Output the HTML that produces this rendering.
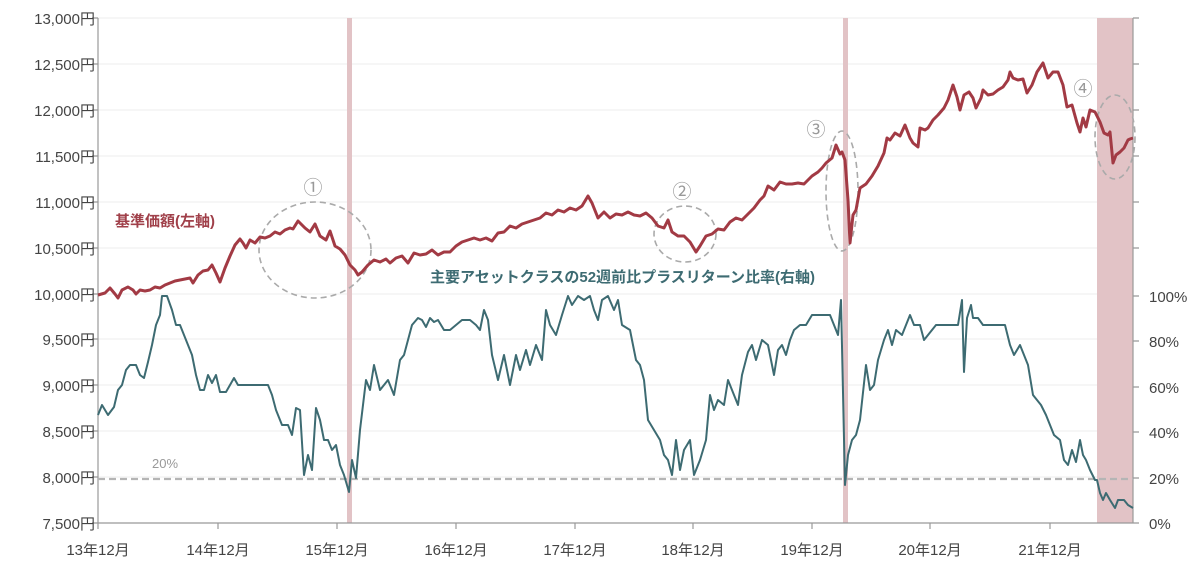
<!DOCTYPE html>
<html><head><meta charset="utf-8"><style>
body{margin:0;background:#fff;}
svg text{font-family:"Liberation Sans","Noto Sans CJK JP",sans-serif;}
</style></head><body>
<svg width="1200" height="572" viewBox="0 0 1200 572" xmlns="http://www.w3.org/2000/svg">
<rect width="1200" height="572" fill="#fff"/>
<!-- grid -->
<g stroke="#ececec" stroke-width="1">
<line x1="98" x2="1133" y1="18" y2="18"/><line x1="98" x2="1133" y1="64" y2="64"/><line x1="98" x2="1133" y1="110" y2="110"/><line x1="98" x2="1133" y1="156" y2="156"/><line x1="98" x2="1133" y1="202" y2="202"/><line x1="98" x2="1133" y1="248" y2="248"/><line x1="98" x2="1133" y1="294" y2="294"/><line x1="98" x2="1133" y1="339" y2="339"/><line x1="98" x2="1133" y1="385" y2="385"/><line x1="98" x2="1133" y1="431" y2="431"/><line x1="98" x2="1133" y1="477" y2="477"/>
</g>
<!-- shaded -->
<rect x="347" y="18" width="5" height="505" fill="#e2c3c6"/>
<rect x="843" y="18" width="5" height="505" fill="#e2c3c6"/>
<rect x="1097" y="18" width="36" height="505" fill="#e2c3c6"/>
<!-- axes -->
<g stroke="#999" stroke-width="1.2" fill="none">
<line x1="98" y1="18" x2="98" y2="523"/><line x1="1133" y1="18" x2="1133" y2="523"/><line x1="98" y1="523" x2="1133" y2="523"/>
<path d="M92 18H98M92 64H98M92 110H98M92 156H98M92 202H98M92 248H98M92 294H98M92 339H98M92 385H98M92 431H98M92 477H98M92 523H98"/>
<path d="M1133 18H1139M1133 64H1139M1133 110H1139M1133 156H1139M1133 202H1139M1133 248H1139M1133 296H1139M1133 341H1139M1133 387H1139M1133 432H1139M1133 478H1139M1133 523H1139"/>
<path d="M98 523V529M218 523V529M337 523V529M456 523V529M575 523V529M693 523V529M812 523V529M930 523V529M1050 523V529"/>
</g>
<line x1="98" x2="1133" y1="479" y2="479" stroke="#b5b5b5" stroke-width="2.2" stroke-dasharray="7,4"/>
<g font-size="15" fill="#444" text-anchor="end">
<text x="95" y="24">13,000円</text><text x="95" y="70">12,500円</text><text x="95" y="116">12,000円</text><text x="95" y="162">11,500円</text><text x="95" y="208">11,000円</text><text x="95" y="254">10,500円</text><text x="95" y="300">10,000円</text><text x="95" y="345">9,500円</text><text x="95" y="391">9,000円</text><text x="95" y="437">8,500円</text><text x="95" y="483">8,000円</text><text x="95" y="529">7,500円</text>
</g>
<g font-size="15" fill="#444">
<text x="1149" y="302">100%</text><text x="1149" y="347">80%</text><text x="1149" y="393">60%</text><text x="1149" y="438">40%</text><text x="1149" y="484">20%</text><text x="1149" y="529">0%</text>
</g>
<g font-size="15" fill="#444" text-anchor="middle">
<text x="98" y="555">13年12月</text><text x="218" y="555">14年12月</text><text x="337" y="555">15年12月</text><text x="456" y="555">16年12月</text><text x="575" y="555">17年12月</text><text x="693" y="555">18年12月</text><text x="812" y="555">19年12月</text><text x="930" y="555">20年12月</text><text x="1050" y="555">21年12月</text>
</g>
<text x="152" y="468" font-size="13" fill="#999">20%</text>
<!-- ellipses -->
<g fill="none" stroke="#aaa" stroke-width="1.6" stroke-dasharray="6,4">
<ellipse cx="315" cy="250" rx="56" ry="48"/>
<ellipse cx="685" cy="234" rx="31" ry="28"/>
<ellipse cx="842" cy="191" rx="16" ry="60"/>
<ellipse cx="1115" cy="137" rx="20" ry="42"/>
</g>
<g font-size="19" fill="#999" text-anchor="middle">
<text x="313" y="194">①</text><text x="682" y="198">②</text><text x="816" y="136">③</text><text x="1083" y="95">④</text>
</g>
<!-- teal -->
<polyline fill="none" stroke="#3d6b72" stroke-width="2" stroke-linejoin="round" points="98,415 102,405 108,415 114,407 118,390 122,385 126,370 130,365 136,365 140,375 144,378 148,362 152,345 156,325 160,315 162,296 167,296 172,310 176,325 180,325 184,335 188,345 192,355 196,375 200,390 204,390 208,375 212,383 216,375 220,392 226,392 230,385 234,378 238,385 245,385 255,385 268,385 272,395 276,410 282,425 288,425 292,435 296,408 300,410 304,475 308,455 312,470 316,408 320,420 324,440 328,440 332,450 336,445 340,465 344,475 349,492 352,460 356,478 360,430 366,380 370,390 374,365 380,390 388,380 394,395 400,360 404,355 408,340 412,325 418,318 422,320 426,327 430,318 434,322 438,320 444,330 450,330 456,325 462,320 470,320 476,325 480,330 484,310 488,320 492,355 498,380 504,355 510,385 516,355 520,370 526,350 530,365 536,345 542,360 546,310 550,325 556,335 562,315 568,296 572,305 578,296 584,300 590,296 594,310 598,320 602,300 608,296 614,310 618,300 622,325 630,330 636,360 640,365 644,380 648,420 654,430 660,440 664,455 668,460 672,475 676,440 680,470 684,450 690,440 694,475 700,460 706,440 710,395 714,410 718,400 724,405 728,380 734,395 738,405 742,375 748,352 752,345 756,360 762,340 768,345 774,375 778,350 782,345 786,355 790,340 794,330 800,325 806,325 812,315 818,315 830,315 834,325 838,335 841,300 845,485 848,455 852,440 856,435 860,420 866,365 870,390 874,385 878,360 884,340 888,330 892,345 896,330 902,335 906,325 910,315 914,325 920,325 924,340 932,330 936,325 945,325 952,325 958,325 962,300 964,372 967,318 971,305 973,318 978,318 983,325 1000,325 1005,325 1010,345 1014,355 1020,345 1024,355 1028,365 1033,395 1037,400 1041,405 1046,415 1050,425 1054,435 1060,440 1064,460 1068,465 1072,450 1076,462 1080,440 1083,455 1086,460 1090,470 1095,480 1097,480 1100,493 1103,500 1106,493 1110,500 1115,508 1118,500 1124,500 1128,505 1133,508"/>
<!-- red -->
<polyline fill="none" stroke="#a23a44" stroke-width="3" stroke-linejoin="round" points="98,295 105,293 110,288 115,294 118,298 122,290 128,287 133,290 136,294 140,290 145,291 150,290 155,287 160,288 165,285 170,283 175,281 180,280 185,279 190,278 193,283 198,275 203,271 208,270 212,265 216,273 220,282 225,268 230,256 235,245 240,239 243,243 246,248 250,240 255,243 260,237 265,238 270,236 275,232 280,234 285,230 290,228 293,229 298,221 305,228 310,232 315,224 320,236 326,240 330,231 335,246 340,249 345,255 350,265 355,270 358,275 362,272 368,265 374,260 380,262 386,259 390,263 396,258 402,256 408,263 414,253 420,255 426,254 432,250 438,255 444,252 450,252 456,246 462,242 468,240 474,238 480,240 486,238 492,241 498,233 504,232 510,226 516,228 522,224 528,222 534,220 540,218 546,213 552,215 558,210 564,212 570,208 576,210 582,206 588,196 592,203 598,218 604,212 610,218 616,214 622,215 628,212 634,215 640,216 646,213 652,218 658,226 664,228 668,220 672,232 678,236 684,236 690,242 696,252 700,246 706,236 712,234 718,229 724,230 730,222 736,218 742,220 748,214 754,208 760,200 764,196 768,186 774,190 780,182 786,184 792,184 798,183 804,184 808,180 812,176 818,172 822,168 826,163 832,158 836,145 840,154 842,152 845,160 848,200 850,243 853,215 856,210 860,188 866,184 872,176 878,166 884,153 887,138 890,140 895,133 900,136 905,125 910,138 913,143 918,147 920,128 925,130 928,128 933,120 938,115 944,108 948,100 953,85 957,97 960,110 964,95 969,92 973,98 976,108 981,98 983,90 988,95 993,94 998,90 1003,87 1008,80 1010,72 1013,78 1018,80 1023,79 1027,93 1032,85 1037,72 1043,63 1048,78 1053,72 1058,72 1063,85 1067,107 1072,105 1077,123 1080,132 1083,118 1086,127 1090,110 1095,112 1100,122 1104,133 1108,135 1110,132 1113,163 1116,155 1120,152 1124,148 1128,140 1130,139 1133,138"/>
<text x="115" y="226" font-size="15" font-weight="bold" fill="#a0404a">基準価額(左軸)</text>
<text x="430" y="282" font-size="15" font-weight="bold" fill="#3d6b72">主要アセットクラスの52週前比プラスリターン比率(右軸)</text>
</svg>
</body></html>
